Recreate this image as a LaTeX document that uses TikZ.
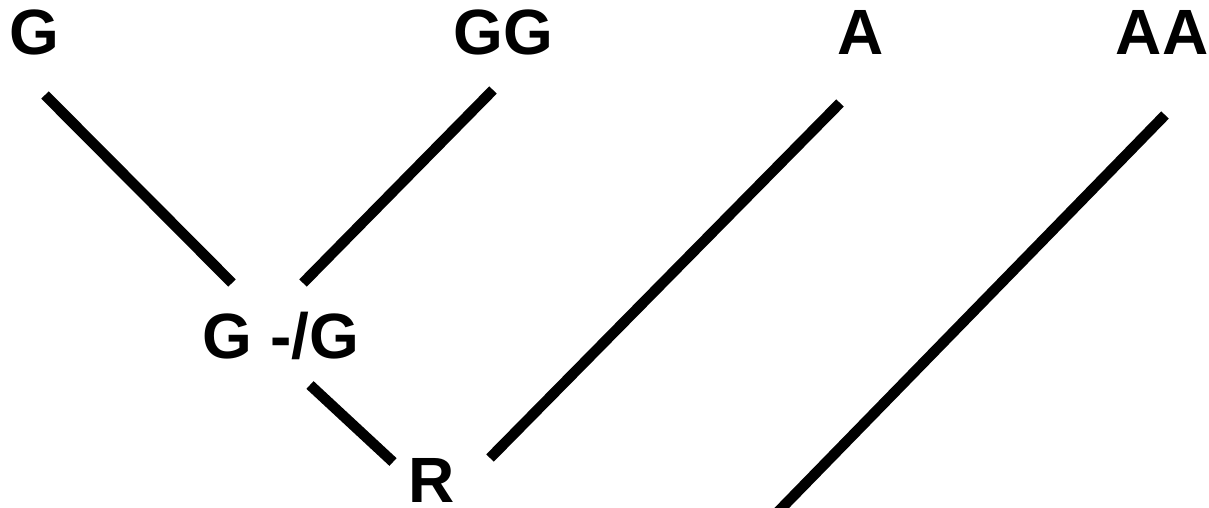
\documentclass[tikz,border=0pt]{standalone}
\usepackage{fontspec}
\setmainfont{Liberation Sans}
\tikzset{
  lbl/.style={font=\fontsize{64}{64}\selectfont\bfseries, inner sep=0pt, anchor=base},
  bar/.style={line width=10.5pt, line cap=butt}
}
\begin{document}
\begin{tikzpicture}[x=1pt,y=-1pt]
\useasboundingbox (0,0) rectangle (1209,508);
\clip (0,0) rectangle (1209,508);
\node[lbl] (g) at (34,55) {G};
\node[lbl] (gg) at (503,55) {GG};
\node[lbl] (a) at (861,55) {A};
\node[lbl] (aa) at (1162,55) {AA};
\node[lbl] (gslg) at (281,358) {G -/G};
\node[lbl] (r) at (432,502) {R};
\coordinate (g1) at (45,95);
\coordinate (g2) at (232,283);
\coordinate (gg1) at (493,90);
\coordinate (gg2) at (303,283);
\coordinate (a1) at (840,103);
\coordinate (a2) at (490,458);
\coordinate (aa1) at (1165,115);
\coordinate (aa2) at (770,520);
\coordinate (s1) at (310,385);
\coordinate (s2) at (393,462);
\draw[bar] (g1) -- (g2);
\draw[bar] (gg1) -- (gg2);
\draw[bar] (a1) -- (a2);
\draw[bar] (aa1) -- (aa2);
\draw[bar] (s1) -- (s2);
\end{tikzpicture}
\end{document}
